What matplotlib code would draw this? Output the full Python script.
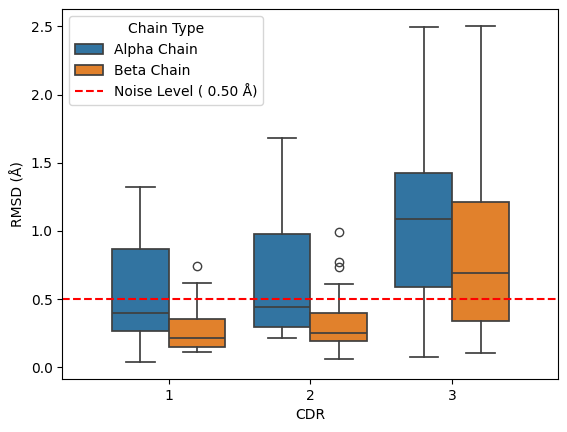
import matplotlib
matplotlib.use("Agg")
import matplotlib.pyplot as plt
from matplotlib.patches import Patch
from matplotlib.lines import Line2D

# Data
cdrs = ["1", "2", "3"]
chains = ["Alpha Chain", "Beta Chain"]
# per chain: [CDR1, CDR2, CDR3]
alpha_whislo = [0.037, 0.213, 0.073]
alpha_q1 = [0.264, 0.293, 0.587]
alpha_med = [0.396, 0.440, 1.085]
alpha_q3 = [0.865, 0.975, 1.422]
alpha_whishi = [1.320, 1.679, 2.493]
alpha_fliers = [[], [], []]

beta_whislo = [0.110, 0.059, 0.105]
beta_q1 = [0.149, 0.193, 0.337]
beta_med = [0.213, 0.251, 0.689]
beta_q3 = [0.356, 0.396, 1.214]
beta_whishi = [0.616, 0.609, 2.502]
beta_fliers = [[0.740], [0.990, 0.774, 0.738], []]

noise_level = 0.50

colors = ["#3274a1", "#e1812c"]
linecol = "#3f3f3f"

fig = plt.figure(figsize=(5.67, 4.32), dpi=100)
ax = fig.add_axes([0.110, 0.1227, 0.875, 0.8558])

series = [
    (alpha_whislo, alpha_q1, alpha_med, alpha_q3, alpha_whishi, alpha_fliers),
    (beta_whislo, beta_q1, beta_med, beta_q3, beta_whishi, beta_fliers),
]
width = 0.4
offsets = [-0.2, 0.2]
for si, (wl, q1, med, q3, wh, fl) in enumerate(series):
    stats = []
    for i in range(len(cdrs)):
        stats.append(dict(whislo=wl[i], q1=q1[i], med=med[i], q3=q3[i],
                          whishi=wh[i], fliers=fl[i]))
    pos = [i + offsets[si] for i in range(len(cdrs))]
    ax.bxp(stats, positions=pos, widths=width, patch_artist=True,
           showfliers=True, capwidths=0.2, manage_ticks=False,
           boxprops=dict(facecolor=colors[si], edgecolor=linecol, linewidth=1.25),
           medianprops=dict(color=linecol, linewidth=1.25),
           whiskerprops=dict(color=linecol, linewidth=1.25),
           capprops=dict(color=linecol, linewidth=1.25),
           flierprops=dict(marker="o", markerfacecolor="none",
                           markeredgecolor=linecol, markersize=6, linewidth=0))

ax.axhline(noise_level, color="red", linestyle="--", linewidth=1.5)

ax.set_xticks(range(len(cdrs)))
ax.set_xticklabels(cdrs)
ax.set_xlim(-0.75, 2.75)
ax.set_ylim(-0.086, 2.625)
ax.set_xlabel("CDR")
ax.set_ylabel("RMSD (Å)")

handles = [
    Patch(facecolor=colors[0], edgecolor=linecol, linewidth=1.25, label=chains[0]),
    Patch(facecolor=colors[1], edgecolor=linecol, linewidth=1.25, label=chains[1]),
    Line2D([0], [0], color="red", linestyle="--", linewidth=1.5,
           label=f"Noise Level ( {noise_level:.2f} Å)"),
]
ax.legend(handles=handles, title="Chain Type", loc="upper left")

fig.savefig("out.png", dpi=100)
